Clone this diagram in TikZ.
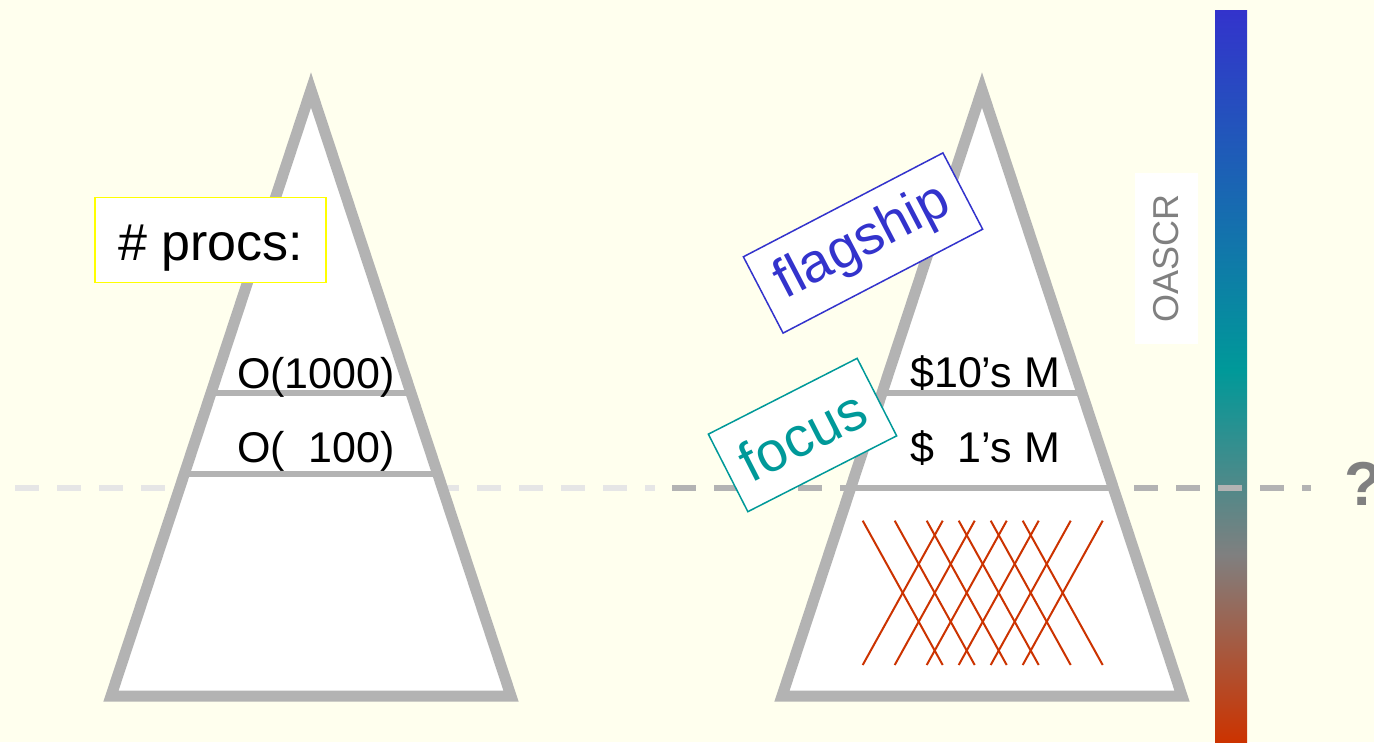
\documentclass[tikz,border=0pt]{standalone}
\usepackage{fontspec}
\setmainfont{Liberation Sans}
\definecolor{bg}{HTML}{FFFFEE}
\definecolor{tri}{HTML}{B3B3B3}
\definecolor{lightdash}{HTML}{E6E6E6}
\definecolor{flagblue}{HTML}{3333CC}
\definecolor{focusteal}{HTML}{009999}
\definecolor{hatchred}{HTML}{CC3300}
\definecolor{oascrgray}{HTML}{808080}
\definecolor{procsyellow}{HTML}{FFFF00}
\pgfdeclareverticalshading{oascrbar}{100bp}{rgb(0bp)=(0.8,0.2,0); rgb(25bp)=(0.8,0.2,0); rgb(37.8bp)=(0.5,0.5,0.5); rgb(50.4bp)=(0,0.6,0.6); rgb(75bp)=(0.2,0.2,0.8); rgb(100bp)=(0.2,0.2,0.8)}
\newcommand{\fsz}[1]{\fontsize{#1}{#1}\selectfont}
\tikzset{
  trifill/.style={fill=white},
  tristroke/.style={draw=tri, line width=11, line join=miter, miter limit=10},
  divider/.style={draw=tri, line width=6},
  dashline/.style={line width=6, dash pattern=on 24 off 18},
  level/.style={inner sep=0, anchor=base west, font=\fsz{43}},
  hatchline/.style={draw=hatchred, line width=2},
  tag/.style={inner sep=0, fill=white, line width=1.5},
}
\begin{document}
\begin{tikzpicture}[x=1pt,y=-1pt]
\path[use as bounding box, fill=bg] (0,0) rectangle (1374,742);

% gradient bar
\shade[shading=oascrbar] (1215,10) rectangle (1247,742);

% dashed lines
\coordinate (lda) at (15,488);
\coordinate (ldb) at (655,488);
\coordinate (dda) at (672,488);
\coordinate (ddb) at (1311,488);
\draw[dashline, lightdash] (lda) -- (ldb);
\draw[dashline, tri] (dda) -- (ddb);

% left triangle
\coordinate (LA) at (311,90);
\coordinate (LB) at (111,696);
\coordinate (LC) at (511,696);
\fill[trifill] (LA) -- (LB) -- (LC) -- cycle;
\coordinate (l1a) at (211,393); \coordinate (l1b) at (411,393);
\coordinate (l2a) at (184,474); \coordinate (l2b) at (438,474);
\draw[divider] (l1a) -- (l1b);
\draw[divider] (l2a) -- (l2b);
\draw[tristroke] (LA) -- (LB) -- (LC) -- cycle;

% right triangle
\coordinate (RA) at (982,90);
\coordinate (RB) at (782,696);
\coordinate (RC) at (1182,696);
\fill[trifill] (RA) -- (RB) -- (RC) -- cycle;
\coordinate (r1a) at (882,393); \coordinate (r1b) at (1082,393);
\coordinate (r2a) at (851,488); \coordinate (r2b) at (1113,488);
\draw[divider] (r1a) -- (r1b);
\draw[divider] (r2a) -- (r2b);
% hatching
\foreach \k in {0,...,5}{
  \coordinate (hdt\k) at ({862.7+32*\k},520.7);
  \coordinate (hdb\k) at ({942.7+32*\k},665);
  \coordinate (hut\k) at ({942.7+32*\k},520.7);
  \coordinate (hub\k) at ({862.7+32*\k},665);
  \draw[hatchline] (hdt\k) -- (hdb\k);
  \draw[hatchline] (hut\k) -- (hub\k);
}
\draw[tristroke] (RA) -- (RB) -- (RC) -- cycle;

% level labels
\node[level] (o1000) at (237,388) {O(1000)};
\node[level] (o100) at (237,462) {O(\ \ 100)};
\node[level] (m10) at (910,387) {\$10’s M};
\node[level] (m1) at (910,462) {\$\ \ 1’s M};

% tags
\node[tag, draw=procsyellow, minimum width=231, minimum height=85, text height=40, text depth=0, font=\fsz{52}] (procs) at (210.5,240) {\# procs:};
\node[tag, draw=flagblue, text=flagblue, rotate=27.5, minimum width=225, minimum height=86, font=\fsz{55}] (flag) at (863,243) {flagship};
\node[tag, draw=focusteal, text=focusteal, rotate=27, minimum width=167, minimum height=87, font=\fsz{56}] (focus) at (802.5,435) {focus};

% OASCR label
\node[inner sep=0, fill=white, rotate=90, minimum width=171, minimum height=63, text=oascrgray, font=\fsz{36}] (oascr) at (1166.5,258.5) {OASCR};

% question mark
\node[inner sep=0, anchor=base west, text=oascrgray, font=\fsz{62}\bfseries] (q) at (1344,505) {?};
\end{tikzpicture}
\end{document}
